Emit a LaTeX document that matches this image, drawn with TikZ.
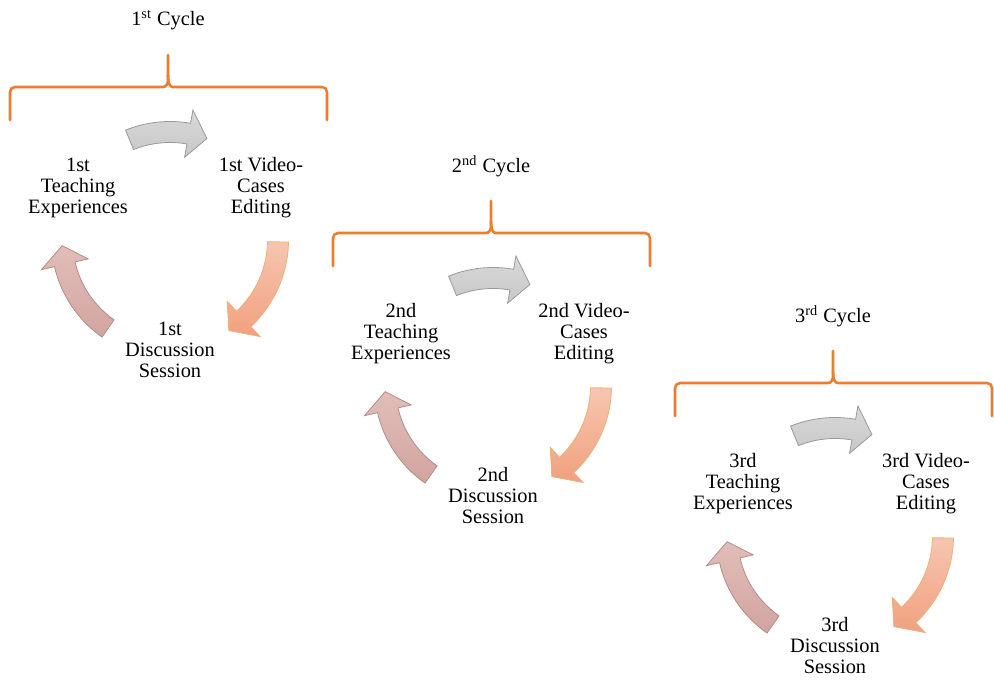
\documentclass[tikz,border=0pt]{standalone}
\usepackage{fontspec}
\setmainfont{Liberation Serif}
\usepackage{tikz}
\usetikzlibrary{arrows.meta,positioning}
\newcommand{\labelfont}{\fontsize{10.2}{10.5}\selectfont}
% one curved block arrow of a cycle: style, start angle, head base angle, tip angle
\newcommand{\cycarrow}[4]{%
  \draw[#1] (#2:118.5) arc[start angle=#2, end angle=#3, radius=118.5]
    -- (#3:132) -- (#4:108) -- (#3:84) -- (#3:97.5)
    arc[start angle=#3, end angle=#2, radius=97.5] -- cycle;}
\definecolor{braceorange}{HTML}{ED7D31}
\tikzset{
  stage/.style    = {align=center, font=\labelfont, inner sep=0pt},
  cyctitle/.style = {font=\labelfont, inner sep=0pt},
  brace/.style    = {draw=braceorange, line width=1.3pt, line cap=round},
  grayarr/.style  = {draw=black!40, line width=0.4pt, top color=black!15, bottom color=black!22},
  orangearr/.style= {draw=orange!45!brown!60, line width=0.4pt, top color={rgb,255:red,247;green,198;blue,176},
                     bottom color={rgb,255:red,241;green,160;blue,126}},
  pinkarr/.style  = {draw={rgb,255:red,180;green,140;blue,135}, line width=0.4pt,
                     top color={rgb,255:red,225;green,190;blue,185}, bottom color={rgb,255:red,210;green,164;blue,160}},
}
\begin{document}
\begin{tikzpicture}[x=0.5pt,y=0.5pt]
  \useasboundingbox (0,0) rectangle (994,679);
  \foreach \i/\px/\py/\ord/\sx in {1/168/592/1/st, 2/491/446/2/nd, 3/833/296/3/rd} {
    \begin{scope}[shift={(\px,\py)}]
      \node[cyctitle] (title\i) at (0,67) {\ord\textsuperscript{\sx} Cycle};
      % brace over the cycle
      \draw[brace, rounded corners=2.5pt] (-158,-33) -- (-158,0) -- (-10,0)
        .. controls (-2,0) and (0,3) .. (0,12) -- (0,32);
      \draw[brace, rounded corners=2.5pt] (0,12) .. controls (0,3) and (2,0) .. (10,0)
        -- (159,0) -- (159,-33);
      \node[stage] (teach\i) at (-90,-101) {\ord\sx\\Teaching\\Experiences};
      \node[stage] (video\i) at (93,-101) {\ord\sx{} Video-\\Cases\\Editing};
      \node[stage] (disc\i) at (2,-263) {\ord\sx\\Discussion\\Session};
      \begin{scope}[shift={(2,-153)}]
        \cycarrow{grayarr}{112}{80}{70}
        \cycarrow{orangearr}{-1}{-47}{-57}
        \cycarrow{pinkarr}{235}{193}{183}
      \end{scope}
    \end{scope}
  }
\end{tikzpicture}
\end{document}
